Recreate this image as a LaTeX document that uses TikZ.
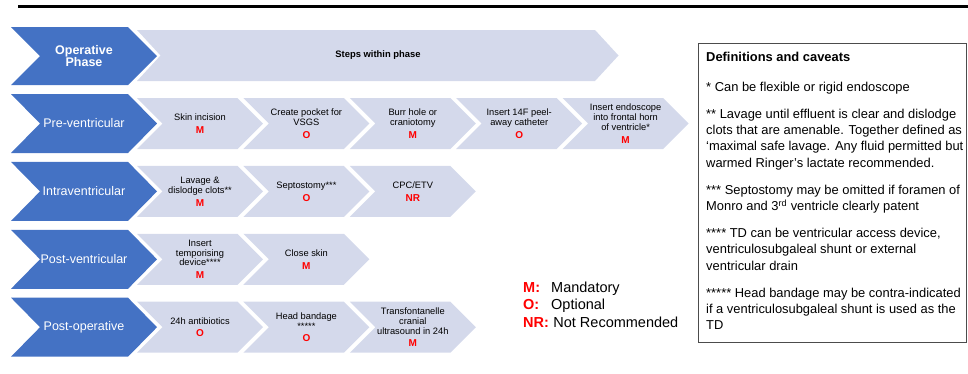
\documentclass[tikz,border=0pt]{standalone}
\usepackage{fontspec}
\setmainfont{Liberation Sans}

\definecolor{phaseblue}{HTML}{4472C4}
\definecolor{steplight}{HTML}{D4D9EB}
\definecolor{keyred}{HTML}{FF0000}

% chevron: [fill] left x, centre y, body width, half height, point depth
\newcommand{\chevron}[6][]{%
	\fill[#1] (#2,{#3-#5}) -- ++(#4,0) -- ++(#6,#5) -- ++(-#6,#5) -- ++(-#4,0) -- ++(#6,-#5) -- cycle;}

\begin{document}
\begin{tikzpicture}[x=1pt,y=-1pt,
		phase/.style={text=white,font=\fontsize{12.5}{12.5}\selectfont,align=center},
		steptext/.style={font=\fontsize{9.3}{9.9}\selectfont,align=center,inner sep=0pt},
		key/.style={text=keyred,font=\fontsize{14.5}{17.5}\selectfont\bfseries,anchor=base west,inner sep=0pt},
		keytext/.style={font=\fontsize{14.5}{17.5}\selectfont,anchor=base west,inner sep=0pt}]
	\useasboundingbox (0,0) rectangle (968,373);
	% Rule across the top
	\draw[line width=2.5pt] (18,6.5) -- (968,6.5);
	% Header row
	\chevron[phaseblue]{11}{56}{117}{29}{29}
	\chevron[steplight]{137}{55.5}{458}{25.5}{23.5}
	\node[phase,font=\fontsize{12.5}{12.5}\selectfont\bfseries] (opphase) at (84,56) {Operative\\Phase};
	\node[font=\fontsize{9.4}{10}\selectfont\bfseries] (steps) at (378,55.5) {Steps within phase};
	% Phases are blue
	\foreach \y/\name/\label in {123.5/pre/Pre-ventricular, 191.4/intra/Intraventricular,
		259.3/post/Post-ventricular, 327.2/postop/Post-operative} {
		\chevron[phaseblue]{11}{\y}{117}{29.5}{29}
		\node[phase] (\name) at (84,\y) {\label};
	}
	% Steps within each phase, with M / O / NR in red
	\foreach \txt/\lvl [count=\i from 0] in {{Skin incision}/M, {Create pocket for\\VSGS}/O,
		{Burr hole or\\craniotomy}/M, {Insert 14F peel-\\away catheter}/O,
		{Insert endoscope\\into frontal horn\\of ventricle*}/M} {
		\pgfmathsetmacro{\sx}{137+106.4*\i}
		\chevron[steplight]{\sx}{123.5}{100.5}{25.5}{25.5}
		\node[steptext] (pre\i) at ({\sx+63},123.5) {\txt\\[3pt]\textcolor{keyred}{\fontsize{10}{10}\selectfont\bfseries\lvl}};
	}
	\foreach \txt/\lvl [count=\i from 0] in {{Lavage \&\\dislodge clots**}/M, {Septostomy***}/O,
		{CPC/ETV}/NR} {
		\pgfmathsetmacro{\sx}{137+106.4*\i}
		\chevron[steplight]{\sx}{191.4}{100.5}{25.5}{25.5}
		\node[steptext] (intra\i) at ({\sx+63},191.4) {\txt\\[3pt]\textcolor{keyred}{\fontsize{10}{10}\selectfont\bfseries\lvl}};
	}
	\foreach \txt/\lvl [count=\i from 0] in {{Insert\\temporising\\device****}/M, {Close skin}/M} {
		\pgfmathsetmacro{\sx}{137+106.4*\i}
		\chevron[steplight]{\sx}{259.3}{100.5}{25.5}{25.5}
		\node[steptext] (post\i) at ({\sx+63},259.3) {\txt\\[3pt]\textcolor{keyred}{\fontsize{10}{10}\selectfont\bfseries\lvl}};
	}
	\foreach \txt/\lvl [count=\i from 0] in {{24h antibiotics}/O, {Head bandage\\{}*****}/O,
		{Transfontanelle\\cranial\\ultrasound in 24h}/M} {
		\pgfmathsetmacro{\sx}{137+106.4*\i}
		\chevron[steplight]{\sx}{327.2}{100.5}{25.5}{25.5}
		\node[steptext] (postop\i) at ({\sx+63},327.2) {\txt\\[3pt]\textcolor{keyred}{\fontsize{10}{10}\selectfont\bfseries\lvl}};
	}
	% Key
	\node[key] (keym) at (523,292.2) {M:};
	\node[keytext] (mandatory) at (551,292.2) {Mandatory};
	\node[key] (keyo) at (523,309.7) {O:};
	\node[keytext] (optional) at (551,309.7) {Optional};
	\node[key] (keynr) at (523,327.2) {NR:};
	\node[keytext] (notrec) at (keynr.base east) {~Not Recommended};
	% Definitions and caveats box
	\draw[black!70,line width=0.8pt] (698,43) rectangle (966,342);
	\node[anchor=north west,inner sep=0pt,align=left,font=\fontsize{12.9}{16.2}\selectfont] (defs) at (706,51.5) {%
		\textbf{Definitions and caveats}\\[14pt]
		* Can be flexible or rigid endoscope\\[11pt]
		** Lavage until effluent is clear and dislodge\\
		clots that are amenable. Together defined as\\
		‘maximal safe lavage. Any fluid permitted but\\
		warmed Ringer’s lactate recommended.\\[11pt]
		*** Septostomy may be omitted if foramen of\\
		Monro and 3\textsuperscript{rd} ventricle clearly patent\\[11pt]
		**** TD can be ventricular access device,\\
		ventriculosubgaleal shunt or external\\
		ventricular drain\\[11pt]
		***** Head bandage may be contra-indicated\\
		if a ventriculosubgaleal shunt is used as the\\
		TD};
\end{tikzpicture}
\end{document}
